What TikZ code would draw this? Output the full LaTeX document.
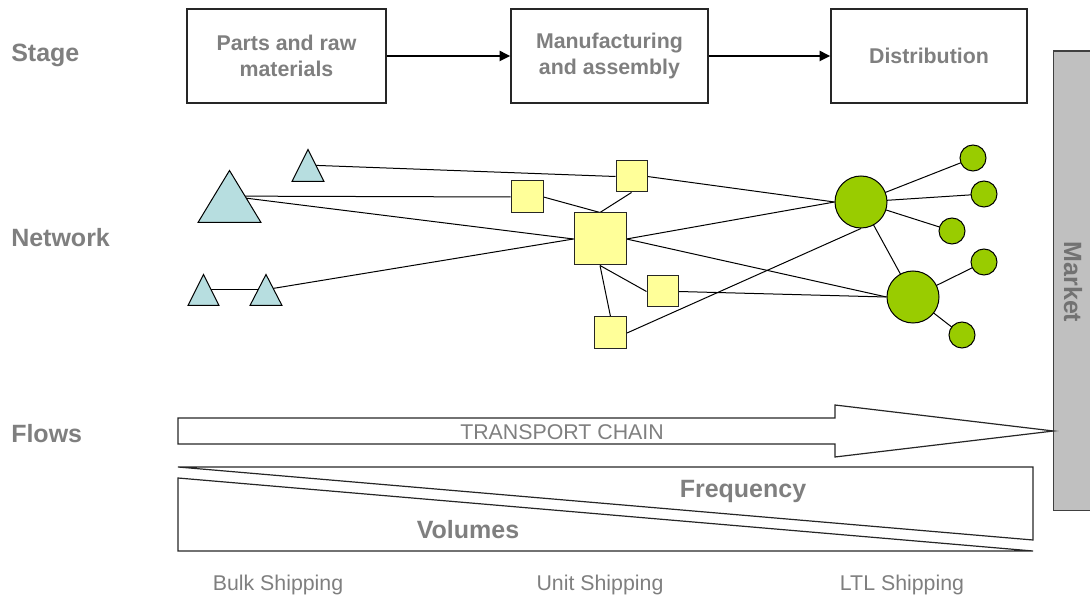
\documentclass[tikz,border=0pt]{standalone}
\usepackage{fontspec}
\setmainfont{Liberation Sans}
\usetikzlibrary{arrows.meta,shapes.geometric,calc}
\pgfdeclarelayer{bg}
\pgfsetlayers{bg,main}
\definecolor{txtgray}{HTML}{7F7F7F}
\definecolor{barfill}{HTML}{C0C0C0}
\definecolor{triblue}{HTML}{B7DEE0}
\definecolor{sqyellow}{HTML}{FFFF99}
\definecolor{nodegreen}{HTML}{99CC00}
\tikzset{
  bigfont/.style={font=\fontsize{18.75}{22}\selectfont\bfseries, text=txtgray},
  smallfont/.style={font=\fontsize{16}{19.5}\selectfont, text=txtgray},
  rowlabel/.style={bigfont, anchor=base west, inner sep=0pt},
  stagebox/.style={draw=black!85, line width=1pt, minimum height=70.5pt, align=center,
    font=\fontsize{16}{19.5}\selectfont\bfseries, text=txtgray, inner sep=0pt},
  stagearrow/.style={line width=1.5pt, -{Triangle[length=8pt,width=7.5pt]}},
  tri/.style={isosceles triangle, isosceles triangle stretches, shape border rotate=90,
    draw=black, line width=0.75pt, fill=triblue, inner sep=0pt, anchor=lower side},
  sq/.style={rectangle, draw=black!85, line width=0.75pt, fill=sqyellow, inner sep=0pt},
  circ/.style={circle, draw=black, line width=0.75pt, fill=nodegreen, inner sep=0pt},
  link/.style={line width=0.75pt, draw=black},
  outline/.style={line width=0.9pt, draw=black!85},
}
\begin{document}
\begin{tikzpicture}[x=0.75pt,y=-0.75pt]
\useasboundingbox (0,0) rectangle (1090,602);

% row labels
\node[rowlabel] (lstage) at (11,62) {Stage};
\node[rowlabel] (lnet) at (11,246.5) {Network};
\node[rowlabel] (lflow) at (11,443) {Flows};

% stage boxes
\node[stagebox, minimum width=149.25pt] (b1) at (286.5,56) {Parts and raw\\materials};
\node[stagebox, minimum width=147.75pt] (b2) at (609.5,56) {Manufacturing\\and assembly};
\node[stagebox, minimum width=147pt] (b3) at (929,56) {Distribution};
\draw[stagearrow] (b1.east) -- (b2.west);
\draw[stagearrow] (b2.east) -- (b3.west);

% market bar
\node[fill=barfill, minimum width=27.4pt, minimum height=344.25pt, inner sep=0pt, anchor=north west] (mkt) at (1053.5,51) {};
\draw[line width=1pt, draw=black!75] (mkt.north east) -- (mkt.north west) -- (mkt.south west) -- (mkt.south east);
\node[bigfont, rotate=-90, text=txtgray!90!black] (mkttxt) at (1073,282) {Market};

% network nodes (triangles placed by the middle of their base)
\node[tri, minimum width=24pt, minimum height=24pt] (t1) at (308,182) {};
\node[tri, minimum width=47.25pt, minimum height=39pt] (t2) at (229.5,223) {};
\node[tri, minimum width=23.25pt, minimum height=23.25pt] (t3) at (203.5,306) {};
\node[tri, minimum width=24pt, minimum height=23.25pt] (t4) at (266,306) {};

\node[sq, minimum size=24pt] (s1) at (527,197) {};
\node[sq, minimum size=23.25pt] (s2) at (631.5,176.5) {};
\node[sq, minimum size=39pt] (s0) at (600,239) {};
\node[sq, minimum size=23.25pt] (s3) at (662.5,291.5) {};
\node[sq, minimum size=24pt] (s4) at (610.5,333) {};

\node[circ, minimum size=39pt] (C1) at (861,202) {};
\node[circ, minimum size=39pt] (C2) at (913,297) {};
\node[circ, minimum size=19.5pt] (c1) at (973,158) {};
\node[circ, minimum size=19.5pt] (c2) at (984,194) {};
\node[circ, minimum size=19.5pt] (c3) at (952,231) {};
\node[circ, minimum size=19.5pt] (c4) at (984,262) {};
\node[circ, minimum size=19.5pt] (c5) at (962,335) {};

\begin{pgfonlayer}{bg}
  \draw[link] ($(t1.apex)!0.5!(t1.lower side)$) -- (s2.west);
  \draw[link] ($(t2.apex)!0.5!(t2.lower side)$) -- (s1.west);
  \draw[link] ($(t2.apex)!0.5!(t2.lower side)$) -- (s0.west);
  \draw[link] ($(t3.apex)!0.5!(t3.lower side)$) -- ($(t4.apex)!0.5!(t4.lower side)$);
  \draw[link] ($(t4.apex)!0.5!(t4.lower side)$) -- (s0.west);
  \draw[link] (s1.east) -- (s0.north);
  \draw[link] (s2.south) -- (s0.north);
  \draw[link] (s2.east) -- (C1.west);
  \draw[link] (s0.east) -- (C1.west);
  \draw[link] (s0.east) -- (C2.west);
  \draw[link] (s0.south) -- (s3.west);
  \draw[link] (s0.south) -- (s4.north);
  \draw[link] (s3.east) -- (C2.west);
  \draw[link] (s4.east) -- (C1.south);
  \draw[link] (C1.center) -- (c1.center);
  \draw[link] (C1.center) -- (c2.center);
  \draw[link] (C1.center) -- (c3.center);
  \draw[link] (C1.center) -- (C2.center);
  \draw[link] (C2.center) -- (c4.center);
  \draw[link] (C2.center) -- (c5.center);
\end{pgfonlayer}

% transport chain arrow
\draw[outline] (178,418) -- (835,418) -- (835,405) -- (mkt.west |- 0,431) -- (835,457) -- (835,444) -- (178,444) -- cycle;
\node[smallfont] (tc) at (562,432) {TRANSPORT CHAIN};

% frequency / volumes wedges
\draw[outline] (178,467) -- (1033,467) -- (1033,540) -- cycle;
\draw[outline] (178,478) -- (178,551) -- (1033,551) -- cycle;
\node[bigfont] (freq) at (743,491) {Frequency};
\node[bigfont] (vol) at (468,530) {Volumes};

% bottom labels
\node[smallfont] (bulk) at (278,585) {Bulk Shipping};
\node[smallfont] (unit) at (600,585) {Unit Shipping};
\node[smallfont] (ltl) at (902,585) {LTL Shipping};
\end{tikzpicture}
\end{document}
